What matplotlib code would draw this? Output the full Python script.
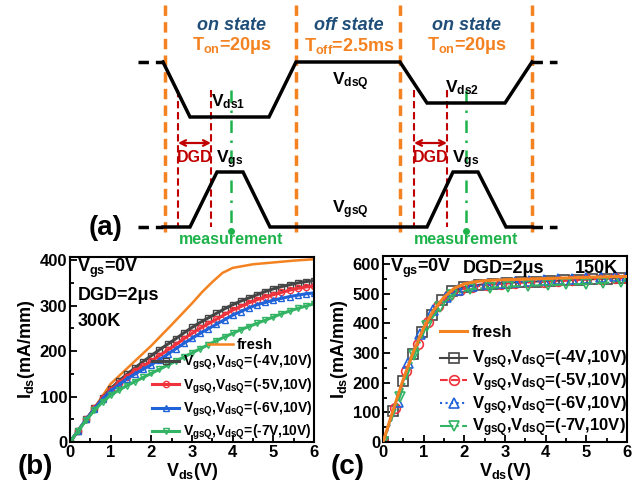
import matplotlib
matplotlib.use('Agg')
import matplotlib.pyplot as plt
from matplotlib.ticker import MultipleLocator

plt.rcParams['font.family'] = ['Liberation Sans', 'DejaVu Sans']
plt.rcParams['font.weight'] = 'bold'
plt.rcParams['axes.labelweight'] = 'bold'
plt.rcParams['mathtext.fontset'] = 'custom'
plt.rcParams['mathtext.rm'] = 'Liberation Sans:bold'
plt.rcParams['mathtext.it'] = 'Liberation Sans:bold'
plt.rcParams['mathtext.bf'] = 'Liberation Sans:bold'

# (a) pulse schematic, time/level in picture pixels
vds_t = [163, 190, 269, 296, 400, 427, 505, 532]
vds_lv = [62, 117, 117, 62, 62, 103, 103, 62]
vgs_t = [163, 190, 217, 243, 270, 427, 453, 478, 506, 532]
vgs_lv = [227, 227, 172, 172, 227, 227, 172, 172, 227, 227]
state_x = [165, 296, 400, 532]          # orange boundaries
dgd_x = [(178, 211), (414, 447)]       # red DGD markers
meas_x = [231, 466]                    # green measurement lines
state_names = ['on state', 'off state', 'on state']
state_times = ['T$_{on}$=20μs', 'T$_{off}$=2.5ms', 'T$_{on}$=20μs']

# (b) 300K
vb = [0, 0.2, 0.4, 0.6, 0.8, 1.0, 1.2, 1.4, 1.6, 1.8, 2.0, 2.2, 2.4, 2.6, 2.8, 3.0,
      3.2, 3.4, 3.6, 3.8, 4.0, 4.2, 4.4, 4.6, 4.8, 5.0, 5.2, 5.4, 5.6, 5.8, 6.0]
vb_fresh = [0, 0.5, 1, 1.5, 2, 2.5, 3, 3.25, 3.5, 3.75, 4, 4.5, 5, 5.5, 6]
ib_fresh = [0, 62, 128, 170, 212, 258, 305, 330, 352, 372, 383, 391, 395, 399, 402]
ib_4 = [0, 25, 50, 74, 97, 117, 134, 149, 163, 177, 190, 203, 215, 227, 240, 252,
        263, 273, 283, 293, 302, 310, 317, 324, 331, 337, 342, 346, 350, 353, 355]
ib_5 = [0, 25, 50, 74, 96, 114, 130, 144, 157, 167, 178, 190, 202, 214, 227, 239,
        250, 260, 270, 280, 290, 298, 306, 313, 319, 324, 329, 334, 338, 341, 343]
ib_6 = [0, 25, 50, 73, 95, 112, 126, 139, 150, 160, 170, 181, 193, 205, 217, 228,
        239, 249, 259, 269, 279, 287, 295, 302, 307, 312, 316, 320, 323, 326, 328]
ib_7 = [0, 25, 48, 70, 88, 103, 114, 124, 133, 142, 151, 160, 169, 178, 187, 196,
        205, 214, 223, 231, 239, 247, 254, 261, 268, 275, 282, 288, 294, 299, 304]

# (c) 150K
vc_fresh = [0, 0.25, 0.5, 0.75, 1.0, 1.25, 1.5, 1.75, 2.0, 2.25, 2.5, 3, 3.5, 4, 4.5, 5, 5.5, 6]
ic_fresh = [0, 108, 212, 305, 385, 445, 488, 518, 533, 540, 544, 547, 549, 551, 553, 555, 557, 558]
vc_4 = [0, 0.25, 0.5, 0.73, 0.97, 1.2, 1.45, 1.7, 2.0, 2.35, 2.7, 3.05, 3.4, 3.75, 4.1, 4.45, 4.8, 5.15, 5.5, 5.85]
ic_4 = [0, 105, 206, 297, 370, 428, 478, 508, 522, 530, 534, 537, 539, 541, 543, 545, 547, 549, 551, 553]
vc_5 = [0, 0.3, 0.57, 0.87, 1.11, 1.35, 1.62, 1.9, 2.2, 2.55, 2.9, 3.25, 3.6, 3.95, 4.3, 4.65, 5.0, 5.35, 5.7, 6.0]
ic_5 = [0, 113, 240, 332, 405, 458, 494, 513, 523, 529, 533, 536, 538, 540, 542, 545, 548, 550, 552, 553]
vc_6 = [0, 0.38, 0.62, 0.91, 1.24, 1.55, 1.85, 2.2, 2.55, 2.9, 3.25, 3.6, 3.95, 4.3, 4.65, 5.0, 5.35, 5.7, 6.0]
ic_6 = [0, 136, 265, 365, 445, 490, 513, 525, 531, 535, 539, 542, 545, 548, 551, 554, 557, 559, 561]
vc_7 = [0, 0.42, 0.77, 1.07, 1.4, 1.69, 2.14, 2.63, 3.08, 3.57, 4.06, 4.51, 5.0, 5.4, 5.85]
ic_7 = [0, 153, 293, 391, 455, 495, 515, 520, 524, 527, 529, 531, 533, 536, 540]

labels = ['$V_{gsQ}$,$V_{dsQ}$=(-4V,10V)', '$V_{gsQ}$,$V_{dsQ}$=(-5V,10V)',
          '$V_{gsQ}$,$V_{dsQ}$=(-6V,10V)', '$V_{gsQ}$,$V_{dsQ}$=(-7V,10V)']
colors = ['#454545', '#f0323c', '#2062d8', '#32b464']
markers = ['s', 'o', '^', 'v']
orange = '#f58220'
dblue = '#1f4e79'
red = '#c00000'
green = '#1db34a'

fig = plt.figure(figsize=(6.44, 4.93), dpi=100)

# ---------- (a)
ax = fig.add_axes([0, 0, 1, 1])
ax.set_xlim(0, 644)
ax.set_ylim(493, 0)
ax.axis('off')

for x in state_x:
    ax.plot([x, x], [5, 232], color=orange, lw=2.5, ls=(0, (3, 1.8)))
for x0, x1 in dgd_x:
    for x in (x0, x1):
        ax.plot([x, x], [90, 227], color=red, lw=1.5, ls=(0, (3.5, 1.8)))
    ax.annotate('', xy=(x0, 143), xytext=(x1, 143),
                arrowprops=dict(arrowstyle='<->', color=red, lw=1.6, shrinkA=0, shrinkB=0))
    ax.text((x0 + x1) / 2, 157, 'DGD', color=red, fontsize=11.5, ha='center', va='center')
for x in meas_x:
    ax.plot([x, x], [90, 231], color=green, lw=1.8, ls=(0, (5, 3, 1, 3)))
    ax.plot(x, 231, 'o', color=green, ms=4)
    ax.text(x, 240, 'measurement', color=green, fontsize=11.5, ha='center', va='center')

ax.plot(vds_t, vds_lv, color='black', lw=2.5, solid_joinstyle='miter')
ax.plot(vgs_t, vgs_lv, color='black', lw=2.5, solid_joinstyle='miter')
for lv in (62, 227):
    ax.plot([138, 163], [lv, lv], color='black', lw=2.5, ls=(0, (3, 2)))
    ax.plot([532, 557], [lv, lv], color='black', lw=2.5, ls=(0, (3, 2)))

mids = [(state_x[i] + state_x[i + 1]) / 2 + 1 for i in range(3)]
for xm, nm, tm in zip(mids, state_names, state_times):
    ax.text(xm, 26, nm, color=dblue, fontsize=13, style='italic', ha='center', va='center')
    ax.text(xm, 46, tm, color=orange, fontsize=13, ha='center', va='center')

ax.text(350, 82, '$V_{dsQ}$', fontsize=12.5, ha='center', va='center')
ax.text(350, 210, '$V_{gsQ}$', fontsize=12.5, ha='center', va='center')
ax.text(211, 102, '$V_{ds1}$', fontsize=12.5, ha='left', va='center')
ax.text(445, 88, '$V_{ds2}$', fontsize=12.5, ha='left', va='center')
ax.text(216, 160, '$V_{gs}$', fontsize=12.5, ha='left', va='center')
ax.text(452, 160, '$V_{gs}$', fontsize=12.5, ha='left', va='center')
ax.text(106, 228, '(a)', fontsize=20, ha='center', va='center')
ax.text(35, 467, '(b)', fontsize=20, ha='center', va='center')
ax.text(348, 467, '(c)', fontsize=20, ha='center', va='center')


def style_axes(a, ymax, ystep):
    a.set_xlim(0, 6)
    a.set_ylim(0, ymax)
    a.xaxis.set_major_locator(MultipleLocator(1))
    a.xaxis.set_minor_locator(MultipleLocator(0.5))
    a.yaxis.set_major_locator(MultipleLocator(ystep))
    a.yaxis.set_minor_locator(MultipleLocator(ystep / 2))
    a.tick_params(which='both', direction='in', labelsize=12, width=1.3, pad=2)
    a.tick_params(which='major', length=5)
    a.tick_params(which='minor', length=3)
    for s in a.spines.values():
        s.set_linewidth(1.5)
    a.set_xlabel('$V_{ds}$(V)', fontsize=13, labelpad=1)
    a.set_ylabel('$I_{ds}$(mA/mm)', fontsize=13, labelpad=2)


# ---------- (b)
axb = fig.add_axes([70 / 644, 51 / 493, 244 / 644, 185 / 493])
hf, = axb.plot(vb_fresh, ib_fresh, color=orange, lw=1.8)
hb = []
for y, c, m, lb in zip([ib_4, ib_5, ib_6, ib_7], colors, markers, labels):
    h, = axb.plot(vb, y, color=c, lw=2.2, marker=m, ms=4.5, mfc='none', mew=1, label=lb)
    hb.append(h)
style_axes(axb, 407, 100)
axb.text(0.03, 0.94, '$V_{gs}$=0V', transform=axb.transAxes, fontsize=13, va='center')
axb.text(0.03, 0.79, 'DGD=2μs', transform=axb.transAxes, fontsize=13, va='center')
axb.text(0.03, 0.65, '300K', transform=axb.transAxes, fontsize=13, va='center')
lg1 = axb.legend([hf], ['fresh'], loc='center left', bbox_to_anchor=(0.565, 0.525),
                 frameon=False, fontsize=10.5, handlelength=1.7, handletextpad=0.3,
                 borderpad=0, borderaxespad=0)
axb.add_artist(lg1)
axb.legend(handles=hb, loc='lower right', bbox_to_anchor=(1.0, -0.01), frameon=False,
           fontsize=10, handlelength=1.9, handletextpad=0.3, labelspacing=0.3,
           borderpad=0.1, borderaxespad=0)

# ---------- (c)
axc = fig.add_axes([383 / 644, 51 / 493, 244 / 644, 186 / 493])
hfc, = axc.plot(vc_fresh, ic_fresh, color=orange, lw=2.2, zorder=5)
hc = []
lstyles = ['-', '--', ':', '-.']
for x, y, c, m, ls, lb in zip([vc_4, vc_5, vc_6, vc_7], [ic_4, ic_5, ic_6, ic_7],
                              colors, markers, lstyles, labels):
    h, = axc.plot(x, y, color=c, lw=1.5, ls=ls, marker=m, ms=7, mfc='none', mew=1.2, label=lb)
    hc.append(h)
style_axes(axc, 627, 100)
axc.text(0.03, 0.935, '$V_{gs}$=0V', transform=axc.transAxes, fontsize=13, va='center')
axc.text(0.325, 0.935, 'DGD=2μs', transform=axc.transAxes, fontsize=13, va='center')
axc.text(0.965, 0.935, '150K', transform=axc.transAxes, fontsize=13, va='center', ha='right')
lg2 = axc.legend([hfc], ['fresh'], loc='center left', bbox_to_anchor=(0.235, 0.59),
                 frameon=False, fontsize=12, handlelength=1.6, handletextpad=0.3,
                 borderpad=0, borderaxespad=0)
axc.add_artist(lg2)
axc.legend(handles=hc, loc='lower left', bbox_to_anchor=(0.235, 0.015), frameon=False,
           fontsize=12, handlelength=1.6, handletextpad=0.3, labelspacing=0.0,
           borderpad=0, borderaxespad=0)

fig.savefig('out.png', dpi=100)
